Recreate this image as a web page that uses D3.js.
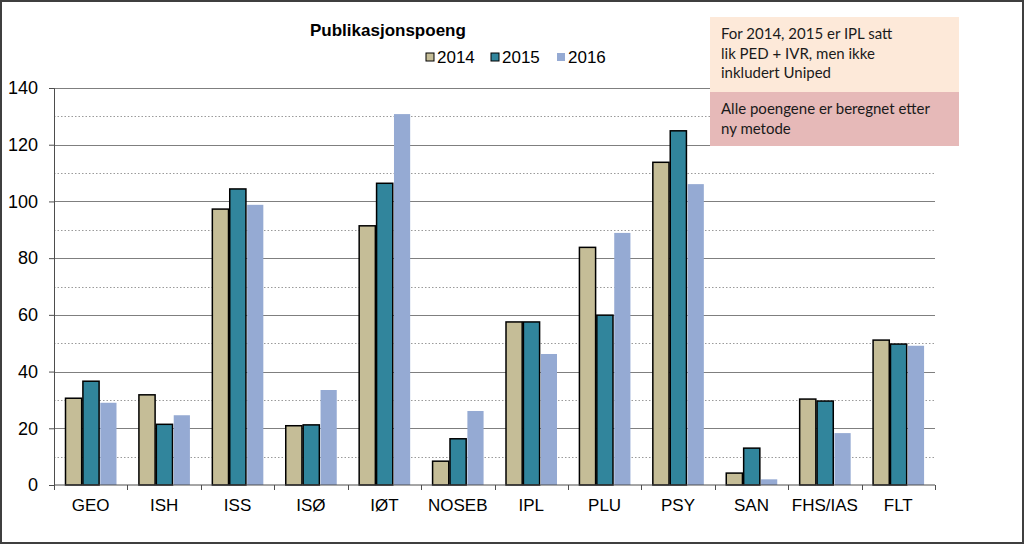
<!DOCTYPE html>
<html>
<head>
<meta charset="utf-8">
<script src="https://cdn.jsdelivr.net/npm/d3@7"></script>
<style>
  body { margin: 0; background: #fff; }
  svg { display: block; }
</style>
</head>
<body>
<svg id="chart" width="1024" height="544"></svg>
<script>
/* Data */
var categories = ["GEO", "ISH", "ISS", "ISØ", "IØT", "NOSEB", "IPL", "PLU", "PSY", "SAN", "FHS/IAS", "FLT"];
var years = ["2014", "2015", "2016"];
var values2014 = [30.6, 31.8, 97.3, 20.9, 91.4, 8.4, 57.5, 83.8, 113.8, 4.2, 30.3, 51.1];
var values2015 = [36.6, 21.4, 104.4, 21.2, 106.4, 16.3, 57.5, 59.9, 124.9, 13.0, 29.6, 49.7];
var values2016 = [29.0, 24.6, 98.8, 33.5, 130.8, 26.1, 46.2, 88.9, 106.1, 2.0, 18.3, 49.1];
var yTicks = [0, 20, 40, 60, 80, 100, 120, 140];
var noteTop = ["For 2014, 2015 er IPL satt", "lik PED + IVR, men ikke", "inkludert Uniped"];
var noteBottom = ["Alle poengene er beregnet etter", "ny metode"];

var seriesValues = [values2014, values2015, values2016];
var colors = ["#c5bd97", "#31859c", "#95aad3"];
var strokes = ["#000", "#000", "none"];

var svg = d3.select("#chart");
var plot = { left: 54, right: 935, top: 88, bottom: 485 };

/* outer frame */
svg.append("rect")
  .attr("x", 1).attr("y", 1)
  .attr("width", 1022).attr("height", 542)
  .attr("fill", "#fff")
  .attr("stroke", "#3f3f3f")
  .attr("stroke-width", 2);

var x0 = d3.scaleBand().domain(categories).range([plot.left, plot.right]).padding(0);
var x1 = d3.scaleBand().domain(years).range([11.5, 62.5]).paddingInner(0.07);
var y = d3.scaleLinear().domain([0, 140]).range([plot.bottom, plot.top]);

/* gridlines: dotted at the 10s, solid at the 20s */
var minor = d3.range(10, 140, 20);
svg.append("g").selectAll("line")
  .data(minor).enter().append("line")
  .attr("x1", plot.left).attr("x2", plot.right)
  .attr("y1", function(d) { return Math.round(y(d)) + 0.5; })
  .attr("y2", function(d) { return Math.round(y(d)) + 0.5; })
  .attr("stroke", "#9a9a9a")
  .attr("stroke-dasharray", "1.5,2");

svg.append("g").selectAll("line")
  .data(yTicks.slice(1)).enter().append("line")
  .attr("x1", plot.left).attr("x2", plot.right)
  .attr("y1", function(d) { return Math.round(y(d)) + 0.5; })
  .attr("y2", function(d) { return Math.round(y(d)) + 0.5; })
  .attr("stroke", "#7f7f7f")
  .attr("stroke-width", 1);

/* bars */
var rows = categories.map(function(c, i) {
  return { cat: c, vals: years.map(function(yr, j) { return { year: yr, idx: j, v: seriesValues[j][i] }; }) };
});

var groups = svg.append("g").selectAll("g")
  .data(rows).enter().append("g")
  .attr("transform", function(d) { return "translate(" + x0(d.cat) + ",0)"; });

groups.selectAll("rect")
  .data(function(d) { return d.vals; })
  .enter().append("rect")
  .attr("x", function(d) { return x1(d.year); })
  .attr("width", x1.bandwidth())
  .attr("y", function(d) { return y(d.v); })
  .attr("height", function(d) { return y(0) - y(d.v); })
  .attr("fill", function(d) { return colors[d.idx]; })
  .attr("stroke", function(d) { return strokes[d.idx]; })
  .attr("stroke-width", 1.5);

/* y axis */
var yAxis = svg.append("g")
  .attr("transform", "translate(" + plot.left + ",0)")
  .call(d3.axisLeft(y).tickValues(yTicks).tickSize(5).tickPadding(11));
yAxis.select(".domain").attr("stroke", "#4d4d4d");
yAxis.selectAll(".tick line").attr("stroke", "#4d4d4d");
yAxis.selectAll("text")
  .attr("font-family", "'Liberation Sans', Arial, sans-serif")
  .attr("font-size", 18)
  .attr("fill", "#000");

/* x axis with ticks between categories */
var xAxis = svg.append("g")
  .attr("transform", "translate(0," + plot.bottom + ")");
xAxis.append("line")
  .attr("x1", plot.left).attr("x2", plot.right)
  .attr("stroke", "#4d4d4d");
xAxis.selectAll(".sep")
  .data(categories.concat(["end"])).enter().append("line")
  .attr("class", "sep")
  .attr("x1", function(d, i) { return Math.round(plot.left + i * x0.bandwidth()) + 0.5; })
  .attr("x2", function(d, i) { return Math.round(plot.left + i * x0.bandwidth()) + 0.5; })
  .attr("y1", 0).attr("y2", 5)
  .attr("stroke", "#4d4d4d");
xAxis.selectAll("text")
  .data(categories).enter().append("text")
  .attr("x", function(d) { return x0(d) + x0.bandwidth() / 2; })
  .attr("y", 26)
  .attr("text-anchor", "middle")
  .attr("font-family", "'Liberation Sans', Arial, sans-serif")
  .attr("font-size", 17)
  .attr("fill", "#000")
  .text(function(d) { return d; });

/* title */
svg.append("text")
  .attr("x", 310).attr("y", 36)
  .attr("font-family", "'Liberation Sans', Arial, sans-serif")
  .attr("font-weight", "bold")
  .attr("font-size", 17)
  .attr("fill", "#000")
  .text("Publikasjonspoeng");

/* legend */
var legendX = [426, 491, 557];
var legend = svg.append("g").selectAll("g")
  .data(years).enter().append("g")
  .attr("transform", function(d, i) { return "translate(" + legendX[i] + ",52)"; });
legend.append("rect")
  .attr("width", 8).attr("height", 8)
  .attr("y", 1)
  .attr("fill", function(d, i) { return colors[i]; })
  .attr("stroke", function(d, i) { return strokes[i]; })
  .attr("stroke-width", 1);
legend.append("text")
  .attr("x", 11).attr("y", 11)
  .attr("font-family", "'Liberation Sans', Arial, sans-serif")
  .attr("font-size", 17)
  .attr("fill", "#000")
  .text(function(d) { return d; });

/* note boxes */
svg.append("rect")
  .attr("x", 710).attr("y", 17).attr("width", 249).attr("height", 75)
  .attr("fill", "#fde9d9");
svg.append("rect")
  .attr("x", 710).attr("y", 92).attr("width", 249).attr("height", 54)
  .attr("fill", "#e6b9b8");

svg.append("g").selectAll("text")
  .data(noteTop).enter().append("text")
  .attr("x", 721)
  .attr("y", function(d, i) { return 39 + i * 19.5; })
  .attr("font-family", "Lato, sans-serif")
  .attr("font-size", 15)
  .attr("fill", "#1a1a1a")
  .text(function(d) { return d; });

svg.append("g").selectAll("text")
  .data(noteBottom).enter().append("text")
  .attr("x", 721)
  .attr("y", function(d, i) { return 114 + i * 19.5; })
  .attr("font-family", "Lato, sans-serif")
  .attr("font-size", 15)
  .attr("fill", "#1a1a1a")
  .text(function(d) { return d; });
</script>
</body>
</html>
